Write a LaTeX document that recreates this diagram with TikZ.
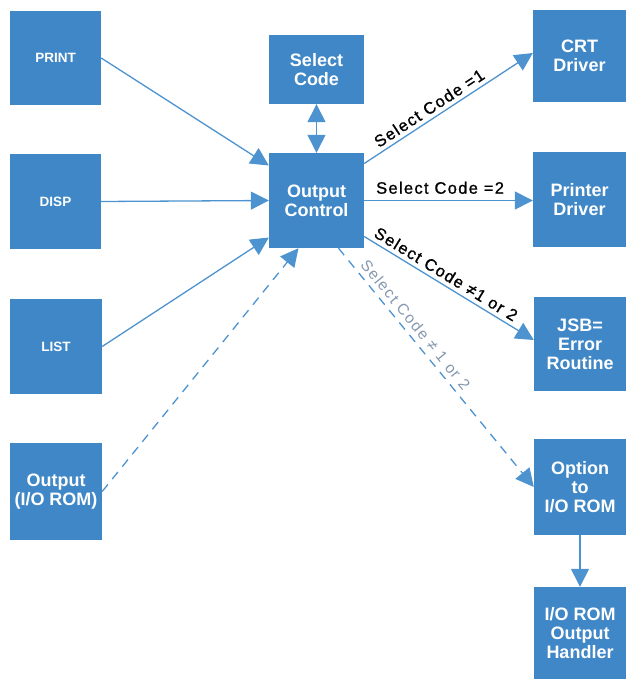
\documentclass[tikz,border=0pt]{standalone}
\usepackage{fontspec}
\setmainfont{Liberation Sans}
\newfontfamily\lblfont[LetterSpace=8,FakeBold=1]{Liberation Sans}
\newfontfamily\thinfont[LetterSpace=10]{Liberation Sans}
\usetikzlibrary{arrows.meta}
\definecolor{boxblue}{HTML}{3F87C6}
\definecolor{lineblue}{HTML}{4C93D0}
\definecolor{thingray}{HTML}{8497AE}
\tikzset{
  blk/.style={fill=boxblue, draw=none, text=white, align=center,
    font=\fontsize{18}{19}\selectfont\bfseries, inner sep=0pt},
  smallblk/.style={blk, font=\fontsize{13.5}{16}\selectfont\bfseries},
  tip/.tip={Triangle[length=18pt,width=18pt]},
  conn/.style={draw=lineblue, line width=1.3pt, -tip},
  dconn/.style={conn, dash pattern=on 9pt off 7pt},
  lbl/.style={font=\fontsize{16.5}{18}\selectfont\lblfont, text=black, inner sep=1pt},
  thinlbl/.style={font=\fontsize{15.5}{18}\selectfont\thinfont, text=thingray, inner sep=1pt}
}
\begin{document}
\begin{tikzpicture}[x=1pt,y=-1pt]
\useasboundingbox (0,0) rectangle (626,679);
% left column
\node[smallblk, minimum width=91pt, minimum height=94pt] (print) at (55.5,58) {PRINT};
\node[smallblk, minimum width=91pt, minimum height=95pt] (disp) at (55.5,201.5) {DISP};
\node[smallblk, minimum width=92pt, minimum height=95pt] (list) at (56,346.5) {LIST};
\node[blk, minimum width=92pt, minimum height=97pt] (ioout) at (56,491.5) {Output\\(I/O ROM)};
% middle
\node[blk, minimum width=95pt, minimum height=69pt] (sel) at (316.5,69.5) {Select\\Code};
\node[blk, minimum width=95pt, minimum height=95pt] (oc) at (316.5,200.5) {Output\\Control};
% right column
\node[blk, minimum width=93pt, minimum height=92pt] (crt) at (579.5,56) {CRT\\Driver};
\node[blk, minimum width=93pt, minimum height=95pt] (prn) at (579.5,199.5) {Printer\\Driver};
\node[blk, minimum width=92pt, minimum height=94pt] (jsb) at (580,344) {JSB=\\Error\\Routine};
\node[blk, minimum width=92pt, minimum height=96pt] (opt) at (580,487) {Option\\to\\I/O ROM};
\node[blk, minimum width=92pt, minimum height=92pt] (hdl) at (580,633) {I/O ROM\\Output\\Handler};
% inputs
\draw[conn] (print.east) -- ([yshift=35pt]oc.west);
\draw[conn] (disp.east) -- (oc.west);
\draw[conn] (list.east) -- ([yshift=-37pt]oc.west);
\draw[dconn] (ioout.east) -- ([xshift=-18pt]oc.south);
\draw[draw=lineblue, line width=1.3pt, tip-tip] (sel.south) -- (oc.north);
% outputs
\draw[conn] ([yshift=37pt]oc.east) -- node[lbl, pos=0.42, sloped, anchor=south, yshift=3pt] {Select Code =1} ([yshift=3pt]crt.west);
\draw[conn] (oc.east) -- node[lbl, pos=0.45, anchor=south, yshift=5pt] {Select Code =2} (oc.east -| prn.west);
\draw[conn] ([yshift=-36pt]oc.east) -- node[lbl, pos=0.45, sloped, anchor=south, yshift=3pt] {Select Code ≠1 or 2} ([yshift=4pt]jsb.west);
\draw[dconn] ([xshift=22pt]oc.south) -- node[thinlbl, pos=0.35, sloped, anchor=south, yshift=4pt] {Select Code ≠ 1 or 2} (opt.west);
\draw[conn] (opt.south) -- (hdl.north);
\end{tikzpicture}
\end{document}
